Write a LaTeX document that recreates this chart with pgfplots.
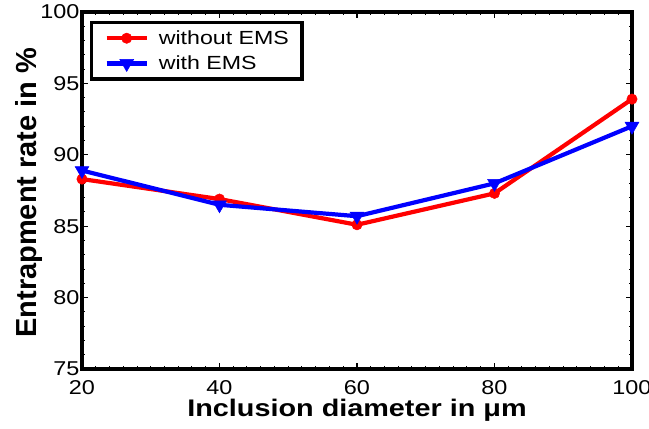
\documentclass[border=0pt]{standalone}
\usepackage{fontspec}
\setmainfont{Liberation Sans}
\newfontfamily\tickfont[FakeStretch=1.17]{Liberation Sans}
\newfontfamily\legfont[FakeStretch=1.22]{Liberation Sans}
\newfontfamily\labfont[FakeStretch=1.2]{Liberation Sans}
\usepackage{pgfplots}
\pgfplotsset{compat=1.18}

\begin{document}
\begin{tikzpicture}
\begin{axis}[
  scale only axis,
  width=550bp, height=357bp,
  xmin=20, xmax=100, ymin=75, ymax=100,
  xtick={20,40,60,80,100},
  ytick={75,80,85,90,95,100},
  minor x tick num=9,
  minor y tick num=4,
  tick align=inside,
  major tick length=6bp,
  minor tick length=3bp,
  tick style={black, line width=1.2pt},
  minor tick style={black, line width=1pt},
  axis line style={line width=4bp},
  /pgf/number format/assume math mode=true,
  ticklabel style={font=\tickfont\fontsize{20bp}{22bp}\selectfont},
  xticklabel style={yshift=-8bp},
  yticklabel style={xshift=1bp},
  xlabel={\bfseries Inclusion diameter in μm},
  ylabel={\bfseries Entrapment rate in \%},
  xlabel style={font=\labfont\fontsize{24bp}{26bp}\selectfont, anchor=center,
    at={(axis description cs:0.5,-0.115)}},
  ylabel style={font=\fontsize{29bp}{31bp}\selectfont, anchor=center,
    at={(axis description cs:-0.096,0.494)}},
  legend cell align=left,
  legend style={
    at={(0,1)}, anchor=north west, xshift=8bp, yshift=-9bp,
    draw=black, line width=3.2bp,
    font=\legfont\fontsize{19bp}{21bp}\selectfont,
    inner xsep=11bp, inner ysep=6bp,
    row sep=6bp,
  },
  legend image code/.code={
    \path (-2bp,0bp) (48bp,0bp);
    \draw[mark repeat=2, mark phase=2, #1] plot coordinates {(0bp,0bp) (20bp,0bp) (40bp,0bp)};
  },
]
\addplot[red, line width=4.2bp, mark=*, mark size=5.2bp, mark options={solid, line width=0.5bp}]
  coordinates {(20,88.3) (40,86.9) (60,85.1) (80,87.3) (100,93.9)};
\addlegendentry{without EMS}
\addplot[blue, line width=4.2bp, mark=triangle*, mark size=8bp, mark options={solid, line width=0.5bp, rotate=180}]
  coordinates {(20,88.9) (40,86.5) (60,85.7) (80,88.0) (100,92.0)};
\addlegendentry{with EMS}
\end{axis}
\pgfresetboundingbox
\path[use as bounding box] (-82bp,-60bp) rectangle (567bp,369bp);
\end{tikzpicture}
\end{document}
